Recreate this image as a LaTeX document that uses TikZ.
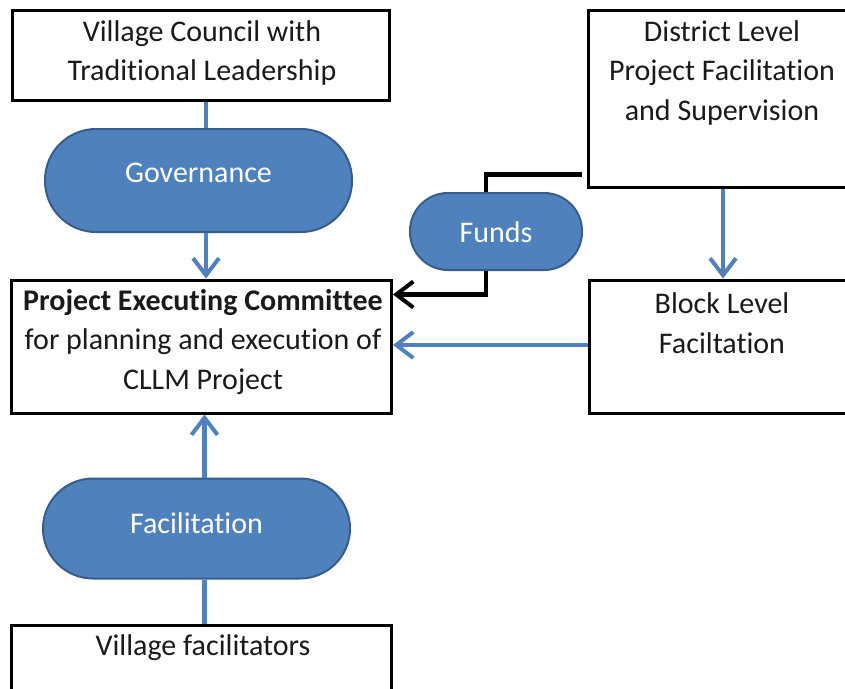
\documentclass[tikz,border=0pt]{standalone}
\usepackage{fontspec}
\setmainfont{Carlito}[Ligatures=NoCommon]
\usetikzlibrary{arrows.meta,calc}
\definecolor{ofblue}{HTML}{4F81BD}
\definecolor{ofbluedark}{HTML}{385D8A}
\definecolor{txt}{HTML}{1A1A1A}
\begin{document}
\begin{tikzpicture}[x=1pt,y=-1pt,
  box/.style={draw=black,line width=3pt,fill=white,inner sep=0pt,minimum width=#1},
  pill/.style={draw=ofbluedark,line width=2pt,fill=ofblue,text=white,rounded corners=50pt,inner sep=0pt},
  lbl/.style={text=txt,font=\fontsize{30}{39.5}\selectfont,align=center,inner sep=0pt},
  plbl/.style={font=\fontsize{30}{36}\selectfont},
  bline/.style={draw=ofblue,line width=4.5pt},
  kline/.style={draw=black,line width=4.5pt},
  tip/.style={-{Straight Barb[length=17pt,width=26pt,line width=4pt]}}
]
\useasboundingbox (0,0) rectangle (845,688);
\clip (0,0) rectangle (845,688);
\fill[white] (0,0) rectangle (845,688);

% boxes
\node[box=377pt,minimum height=90pt] (vc) at (200.5,55) {};
\node[lbl] (vct) at (202,53) {Village Council with\\Traditional Leadership};

\node[box=380pt,minimum height=133pt] (pec) at (201.5,346.5) {};
\node[lbl] (pect) at (203,342) {\textbf{Project Executing Committee}\\for planning and execution of\\CLLM Project};

\node[box=380pt,minimum height=72pt] (vf) at (201.5,661) {};
\node[lbl] (vft) at (203,648) {Village facilitators};

\node[box=270pt,minimum height=177pt] (dist) at (723,98.5) {};
\node[lbl] (distt) at (722,73) {District Level\\Project Facilitation\\and Supervision};

\node[box=268pt,minimum height=133pt] (blk) at (723,346.5) {};
\node[lbl] (blkt) at (722,323) {Block Level\\Faciltation};

% pills
\node[pill,minimum width=307pt,minimum height=103pt,rounded corners=51pt] (gov) at (198.5,180.5) {};
\node[plbl,text=white] (govt) at (198.5,173) {Governance};

\node[pill,minimum width=307pt,minimum height=100pt,rounded corners=50pt] (fac) at (196.5,528.5) {};
\node[plbl,text=white] (fact) at (196.5,523) {Facilitation};

\node[pill,minimum width=172pt,minimum height=77pt,rounded corners=38pt] (fund) at (496,231.5) {};
\node[plbl,text=white] (fundt) at (496,232) {Funds};

% blue connectors
\draw[bline] ([xshift=5.5pt]vc.south) -- ([xshift=5.5pt]vc.south |- gov.north);
\draw[bline,tip] ([xshift=5.5pt]vc.south |- gov.south) -- ([xshift=5.5pt]vc.south |- pec.north);

\draw[bline] ([xshift=3pt]vf.north) -- ([xshift=3pt]vf.north |- fac.south);
\draw[bline,tip] ([xshift=3pt]vf.north |- fac.north) -- ([xshift=3pt]vf.north |- pec.south);

\draw[bline,tip] (dist.south) -- (dist.south |- blk.north);
\draw[bline,tip] ([yshift=1.5pt]blk.west) -- ([yshift=1.5pt]blk.west -| pec.east);

% black funds connector
\coordinate (fstart) at ($(dist.south west)+(-5,-14)$);
\draw[kline] (fstart) -| ([xshift=-10pt]fund.north);
\draw[kline,tip] ([xshift=-10pt]fund.south) |- ($(pec.east)+(0,-52)$);
\end{tikzpicture}
\end{document}
